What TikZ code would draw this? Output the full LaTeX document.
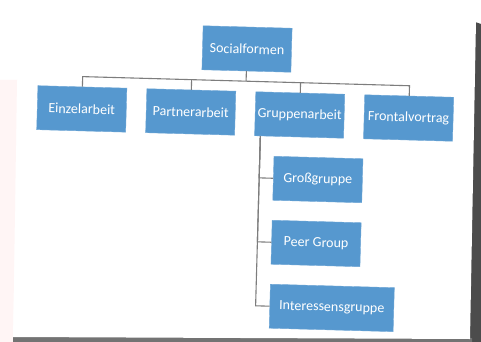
\documentclass[tikz,border=0pt]{standalone}
\usepackage{fontspec}
\setmainfont{Carlito}
\usetikzlibrary{positioning}

\definecolor{boxblue}{RGB}{86,152,207}
\definecolor{linegray}{RGB}{125,125,125}

\begin{document}
\begin{tikzpicture}[x=1pt,y=-1pt,node distance=109pt,on grid,
    box/.style={rectangle,fill=boxblue,draw=boxblue!85!white,text=white,
        minimum width=89pt,minimum height=44pt,inner sep=0pt,
        font=\fontsize{14}{16}\selectfont},
    conn/.style={draw=linegray,line width=1.1pt}]
    \useasboundingbox (0,0) rectangle (481,342);
    % photo background and slide
    \fill[white] (0,0) rectangle (481,342);
    \fill[red!4] (0,80) -- (17,80) -- (13,342) -- (0,342) -- cycle;
    \fill[black!70] (475,22) -- (481,24) -- (481,342) -- (469,342) -- cycle;
    \fill[black!55] (13,336) -- (472,338) -- (472,342) -- (13,342) -- cycle;
    \fill[white] (20,10) -- (476,20) -- (470,339) -- (13,337) -- cycle;
    \begin{scope}[rotate around={-1.6:(247,49)},transform shape]
        \node[box] (sf) at (247,49) {Socialformen};
        \node[box] (ea) at (83.5,113.5) {Einzelarbeit};
        \node[box,right=of ea] (pa) {Partnerarbeit};
        \node[box,right=of pa] (ga) {Gruppenarbeit};
        \node[box,right=of ga] (fv) {Frontalvortrag};
        \node[box,below=64pt of ga,xshift=20pt] (gg) {Großgruppe};
        \node[box,below=64pt of gg] (pg) {Peer Group};
        \node[box,below=64pt of pg,xshift=17.5pt,minimum width=124pt] (ig) {Interessensgruppe};
        % connectors
        \coordinate[below=10pt of sf.south] (bus);
        \draw[conn] (sf.south) -- (bus);
        \draw[conn] (ea.north) |- (bus) -| (fv.north);
        \draw[conn] (pa.north) -- (pa.north |- bus);
        \draw[conn] (ga.north) -- (ga.north |- bus);
        \coordinate[right=6pt of ga.south west] (trunk);
        \draw[conn] (trunk) |- (gg.west);
        \draw[conn] (trunk) |- (pg.west);
        \draw[conn] (trunk) |- (ig.west);
    \end{scope}
\end{tikzpicture}
\end{document}
